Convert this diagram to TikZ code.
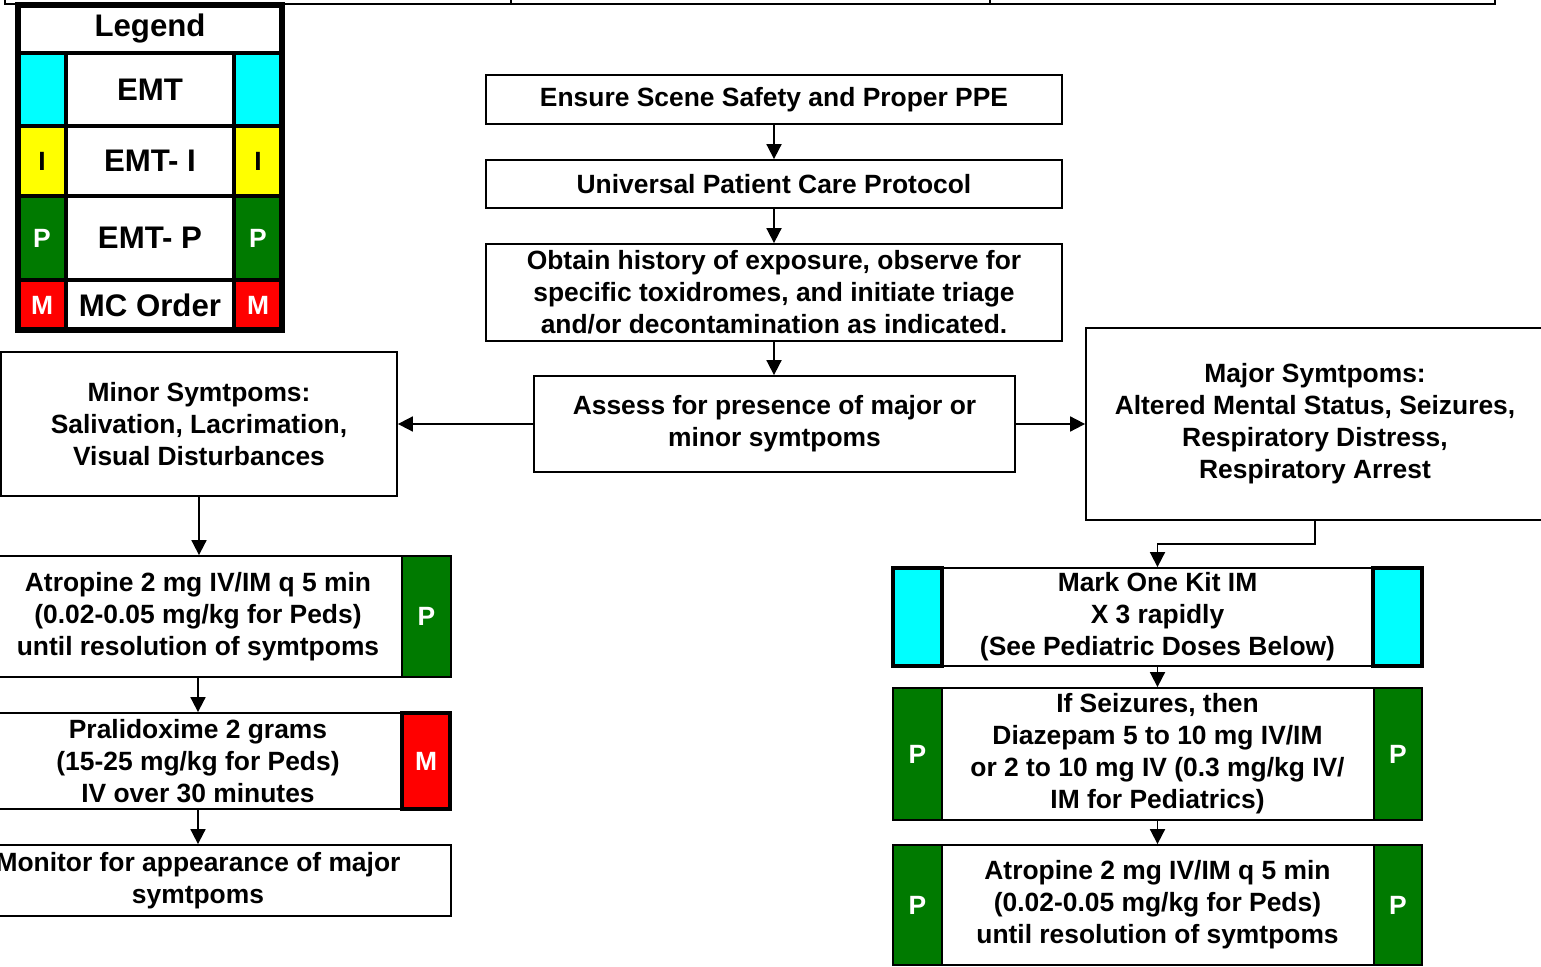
\documentclass[tikz,border=0pt]{standalone}
\usepackage{fontspec}
\setmainfont{Liberation Sans}
\usetikzlibrary{arrows.meta}
\definecolor{pgreen}{RGB}{0,122,0}
\definecolor{ccyan}{RGB}{0,255,255}
\definecolor{yyel}{RGB}{255,255,0}
\definecolor{rred}{RGB}{255,0,0}
\newcommand\flowfont{\bfseries\fontsize{13.2}{16}\selectfont}
\newcommand\legfont{\bfseries\fontsize{15.6}{18}\selectfont}
\begin{document}
\begin{tikzpicture}[x=0.5pt,y=-0.5pt,
  box/.style={draw, line width=0.9pt, fill=white, align=center, inner sep=0pt, font=\flowfont},
  cell/.style={draw, line width=0.9pt, inner sep=0pt, font=\flowfont, text=white},
  thickcell/.style={cell, line width=2pt},
  legcell/.style={draw, line width=2.2pt, inner sep=0pt, font=\legfont},
  legsmall/.style={draw, line width=2.2pt, inner sep=0pt, font=\flowfont},
  arr/.style={line width=0.9pt, -{Triangle[length=7.5pt,width=7.5pt]}}]
\useasboundingbox (0,0) rectangle (1541,967);
\clip (0,0) rectangle (1541,967);
\fill[white] (0,0) rectangle (1541,967);
% partial boxes at top
\node[box, minimum width=253pt, minimum height=23pt] (top1) at (258,-19) {};
\node[box, minimum width=239.5pt, minimum height=23pt] (top2) at (750.5,-19) {};
\node[box, minimum width=252.5pt, minimum height=23pt] (top3) at (1242.5,-19) {};
% legend
\node[legcell, fill=white, minimum width=132pt, minimum height=24pt] (lgt) at (150,29) {\raisebox{-1.5pt}{Legend}};
\node[legsmall, fill=ccyan, minimum width=24pt, minimum height=36.5pt] (l1a) at (42,89.5) {};
\node[legcell, fill=white, minimum width=84pt, minimum height=36.5pt] (l1b) at (150,89.5) {EMT};
\node[legsmall, fill=ccyan, minimum width=24pt, minimum height=36.5pt] (l1c) at (258,89.5) {};
\node[legsmall, fill=yyel, minimum width=24pt, minimum height=35pt] (l2a) at (42,161) {I};
\node[legcell, fill=white, minimum width=84pt, minimum height=35pt] (l2b) at (150,161) {EMT- I};
\node[legsmall, fill=yyel, minimum width=24pt, minimum height=35pt] (l2c) at (258,161) {I};
\node[legsmall, fill=pgreen, text=white, minimum width=24pt, minimum height=42pt] (l3a) at (42,238) {P};
\node[legcell, fill=white, minimum width=84pt, minimum height=42pt] (l3b) at (150,238) {EMT- P};
\node[legsmall, fill=pgreen, text=white, minimum width=24pt, minimum height=42pt] (l3c) at (258,238) {P};
\node[legsmall, fill=rred, text=white, minimum width=24pt, minimum height=25pt] (l4a) at (42,305) {M};
\node[legcell, fill=white, minimum width=84pt, minimum height=25pt] (l4b) at (150,305) {MC Order};
\node[legsmall, fill=rred, text=white, minimum width=24pt, minimum height=25pt] (l4c) at (258,305) {M};
\node[draw, line width=2.6pt, inner sep=0pt, minimum width=132pt, minimum height=162.5pt] (legend) at (150,167.5) {};
% center column
\node[box, minimum width=288pt, minimum height=24.5pt] (a) at (774,99.5) {\raisebox{-1pt}{Ensure Scene Safety and Proper PPE}};
\node[box, minimum width=288pt, minimum height=24pt] (b) at (774,184) {Universal Patient Care Protocol};
\node[box, minimum width=288pt, minimum height=48.5pt] (c) at (774,292.5) {Obtain history of exposure, observe for\\specific toxidromes, and initiate triage\\and/or decontamination as indicated.};
\node[box, minimum width=240.5pt, minimum height=48pt] (d) at (774.5,424) {Assess for presence of major or\\minor symtpoms};
\node[box, minimum width=198pt, minimum height=72pt] (minor) at (199,424) {Minor Symtpoms:\\Salivation, Lacrimation,\\Visual Disturbances};
\node[box, minimum width=229pt, minimum height=96pt] (major) at (1315,424) {Major Symtpoms:\\Altered Mental Status, Seizures,\\Respiratory Distress,\\Respiratory Arrest};
% left column
\node[box, minimum width=253pt, minimum height=60.5pt] (atl) at (198,616.5) {Atropine 2 mg IV/IM q 5 min\\(0.02-0.05 mg/kg for Peds)\\until resolution of symtpoms};
\node[cell, fill=pgreen, minimum width=24.5pt, minimum height=60.5pt] (atlp) at (426.5,616.5) {P};
\node[box, minimum width=253pt, minimum height=48pt] (prali) at (198,761) {Pralidoxime 2 grams\\(15-25 mg/kg for Peds)\\IV over 30 minutes};
\node[thickcell, fill=rred, minimum width=24pt, minimum height=48pt] (pralim) at (426,761) {M};
\node[box, minimum width=253pt, minimum height=35.5pt] (mon) at (198,880.5) {Monitor for appearance of major\\symtpoms};
% right column
\node[box, minimum width=264.5pt, minimum height=49pt] (mark) at (1157.5,617) {Mark One Kit IM\\X 3 rapidly\\(See Pediatric Doses Below)};
\node[thickcell, fill=ccyan, minimum width=24.5pt, minimum height=49pt] (markl) at (917.5,617) {};
\node[thickcell, fill=ccyan, minimum width=24.5pt, minimum height=49pt] (markr) at (1397.5,617) {};
\node[box, minimum width=264.5pt, minimum height=66pt] (seiz) at (1157.5,754) {\raisebox{-1.5pt}{\begin{tabular}{@{}c@{}}If Seizures, then\\Diazepam 5 to 10 mg IV/IM\\or 2 to 10 mg IV (0.3 mg/kg IV/\\IM for Pediatrics)\end{tabular}}};
\node[cell, fill=pgreen, minimum width=24.5pt, minimum height=66pt] (seizl) at (917.5,754) {P};
\node[cell, fill=pgreen, minimum width=24pt, minimum height=66pt] (seizr) at (1398,754) {P};
\node[box, minimum width=264.5pt, minimum height=60pt] (atr) at (1157.5,905) {Atropine 2 mg IV/IM q 5 min\\(0.02-0.05 mg/kg for Peds)\\until resolution of symtpoms};
\node[cell, fill=pgreen, minimum width=24.5pt, minimum height=60pt] (atrl) at (917.5,905) {P};
\node[cell, fill=pgreen, minimum width=24pt, minimum height=60pt] (atrr) at (1398,905) {P};
% connectors
\draw[arr] (a) -- (b);
\draw[arr] (b) -- (c);
\draw[arr] (c.south) -- (c.south |- d.north);
\draw[arr] (d) -- (minor);
\draw[arr] (d) -- (major);
\draw[arr] (minor.south) -- (minor.south |- atl.north);
\draw[arr] (atl) -- (prali);
\draw[arr] (prali) -- (mon);
\draw[arr] (major.south) -- ++(0,23) -| (mark.north);
\draw[arr] (mark) -- (seiz);
\draw[arr] (seiz) -- (atr);
\end{tikzpicture}
\end{document}
